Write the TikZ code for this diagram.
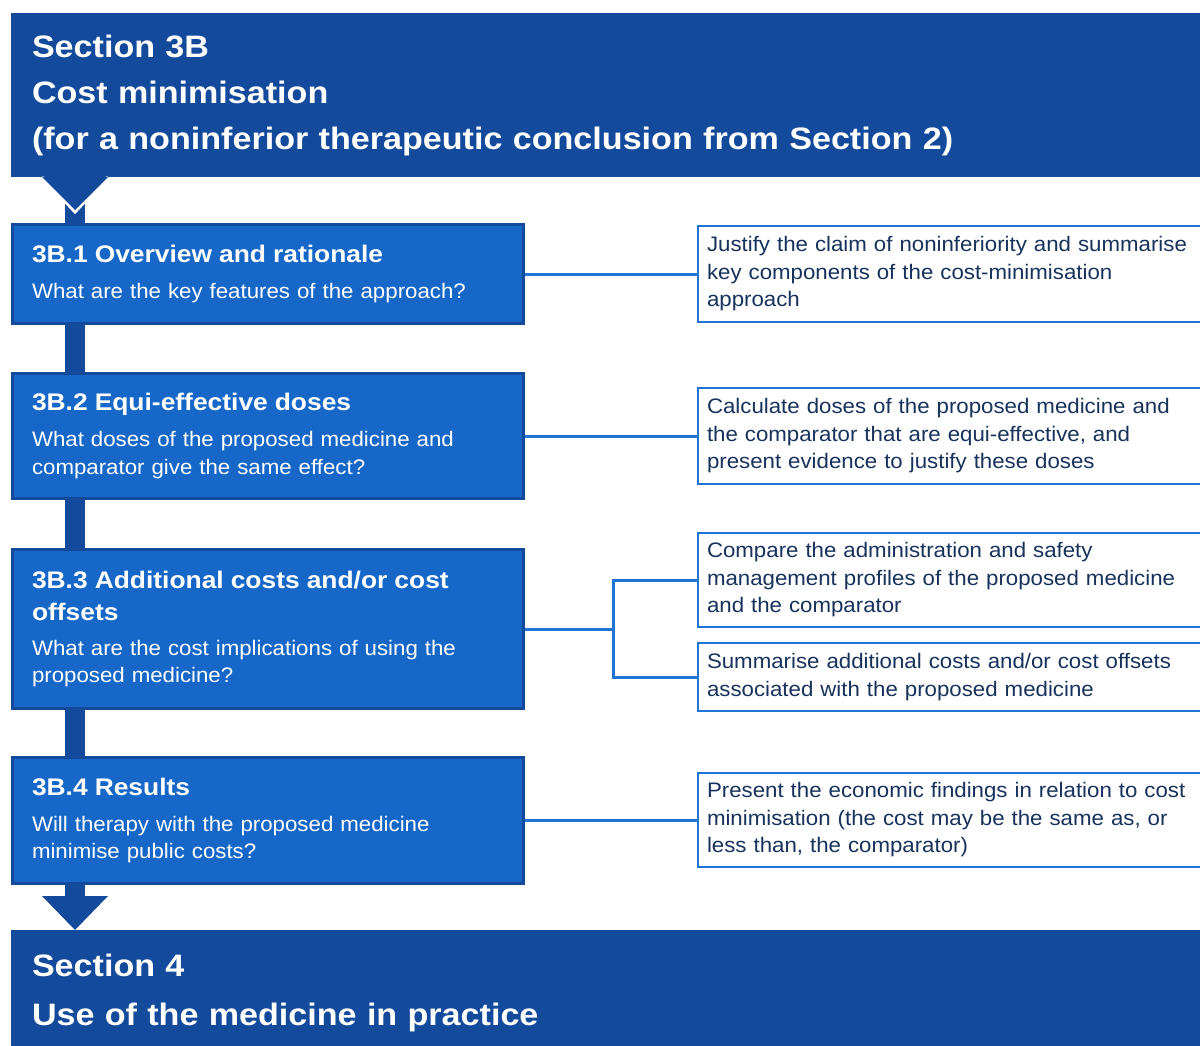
\documentclass[tikz,border=0pt]{standalone}
\usepackage{fontspec}
\setmainfont{Liberation Sans}
\newfontfamily\widefont[FakeStretch=1.1]{Liberation Sans}
\newfontfamily\bodyfont[FakeStretch=1.06]{Liberation Sans}
\usetikzlibrary{calc}
\definecolor{navy}{HTML}{134A9C}
\definecolor{mblue}{HTML}{1667C7}
\definecolor{lline}{HTML}{2274D4}
\definecolor{tink}{HTML}{18325C}
\newcommand{\ttl}{\widefont\bfseries\fontsize{24}{32}\selectfont}
\tikzset{
  band/.style={fill=navy,text=white,anchor=north west,align=left,outer sep=0pt,
    inner xsep=21pt,inner ysep=0pt,minimum width=1189pt,text width=1147pt,
    font=\widefont\bfseries\fontsize{31}{46}\selectfont},
  lbx/.style={draw=navy,line width=3pt,fill=mblue,text=white,anchor=north west,align=left,
    inner xsep=19.5pt,inner ysep=0pt,minimum width=511pt,text width=472pt,
    font=\bodyfont\fontsize{21}{27.5}\selectfont},
  rbx/.style={draw=lline,line width=2pt,fill=white,text=tink,anchor=north west,align=left,
    inner xsep=9pt,inner ysep=0pt,minimum width=510pt,text width=492pt,
    font=\bodyfont\fontsize{21}{27.5}\selectfont},
  link/.style={draw=lline,line width=3pt},
  stem/.style={draw=navy,line width=20pt},
}

\begin{document}
\begin{tikzpicture}[x=1pt,y=-1pt]
  \useasboundingbox[fill=white] (0,0) rectangle (1200,1046);
  \node[band,minimum height=164pt] (hdr) at (11,13) {Section 3B\\Cost minimisation\\(for a noninferior therapeutic conclusion from Section 2)};
  \node[lbx,minimum height=99pt] (ov) at (11,223) {{\ttl 3B.1 Overview and rationale}\\[8.5pt]What are the key features of the approach?};
  \node[lbx,minimum height=125pt] (ed) at (11,372) {{\ttl 3B.2 Equi-effective doses}\\[8.5pt]What doses of the proposed medicine and\\comparator give the same effect?};
  \node[lbx,minimum height=159pt] (ac) at (11,548) {{\ttl 3B.3 Additional costs and/or cost\\[4.5pt]offsets}\\[7.5pt]What are the cost implications of using the\\proposed medicine?};
  \node[lbx,minimum height=126pt] (rs) at (11,756) {{\ttl 3B.4 Results}\\[8.5pt]Will therapy with the proposed medicine\\minimise public costs?};
  \node[band,minimum height=116pt,font=\widefont\bfseries\fontsize{31}{49}\selectfont,text height=32pt] (ftr) at (11,930) {Section 4\\Use of the medicine in practice};
  \node[rbx,minimum height=96pt] (jc) at (697,225) {Justify the claim of noninferiority and summarise\\key components of the cost-minimisation\\approach};
  \node[rbx,minimum height=96pt] (cd) at (697,387) {Calculate doses of the proposed medicine and\\the comparator that are equi-effective, and\\present evidence to justify these doses};
  \node[rbx,minimum height=94pt] (cp) at (697,532) {Compare the administration and safety\\management profiles of the proposed medicine\\and the comparator};
  \node[rbx,minimum height=68pt] (sa) at (697,642) {Summarise additional costs and/or cost offsets\\associated with the proposed medicine};
  \node[rbx,minimum height=94pt] (pe) at (697,772) {Present the economic findings in relation to cost\\minimisation (the cost may be the same as, or\\less than, the comparator)};
  \coordinate (tip) at ([xshift=64pt,yshift=-33pt]hdr.south west);
  \coordinate (btip) at ([xshift=64pt]ftr.north west);
  \draw[stem] ([xshift=64pt]ov.north west) -- ++(0,-25);
  \draw[white,line width=3pt] ([xshift=31pt]hdr.south west) -- ([yshift=-2pt]tip) -- ([xshift=97pt]hdr.south west);
  \fill[navy] ([xshift=31pt]hdr.south west) -- (tip) -- ([xshift=97pt]hdr.south west) -- cycle;
  \draw[stem] ([xshift=64pt]ov.south west) -- ([xshift=64pt]ed.north west);
  \draw[stem] ([xshift=64pt]ed.south west) -- ([xshift=64pt]ac.north west);
  \draw[stem] ([xshift=64pt]ac.south west) -- ([xshift=64pt]rs.north west);
  \draw[stem] ([xshift=64pt]rs.south west) -- ++(0,13);
  \fill[navy] ([xshift=-33pt,yshift=34pt]btip) -- (btip) -- ([xshift=33pt,yshift=34pt]btip) -- cycle;
  \draw[link] (ov) -- (jc);
  \draw[link] (ed) -- (cd);
  \draw[link] (ac.east) -- ++(88,0) coordinate (br);
  \draw[link] (cp.west) -| (br) |- (sa.west);
  \draw[link] (rs.east) -- (rs.east -| pe.west);
\end{tikzpicture}
\end{document}
